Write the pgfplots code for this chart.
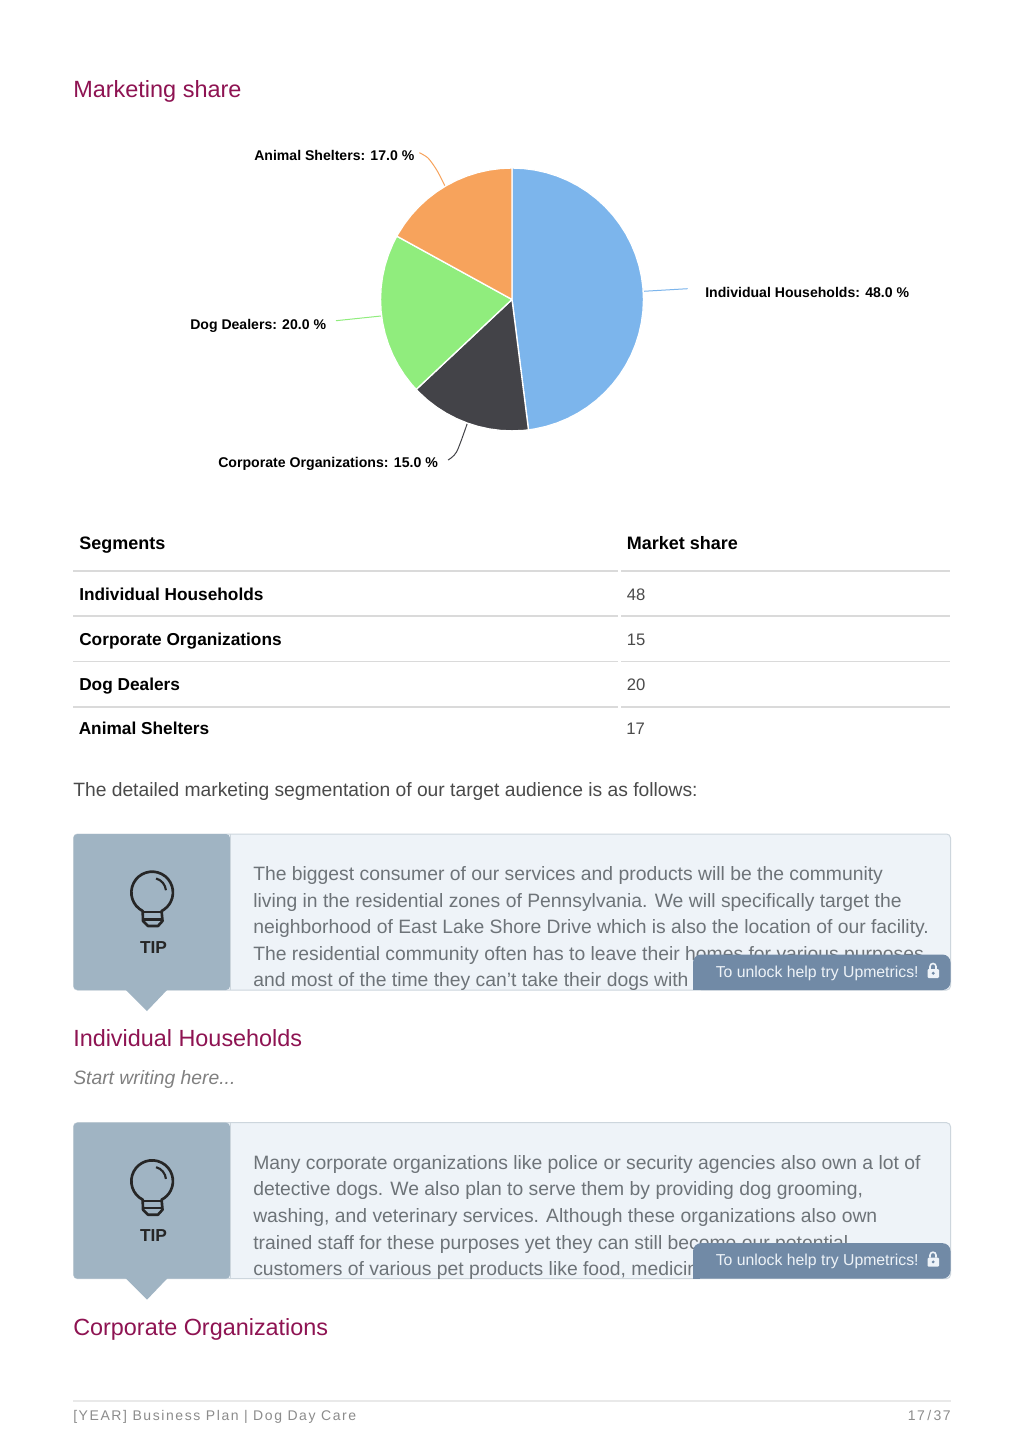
\documentclass[border=0pt]{standalone}
\usepackage{fontspec}
\setmainfont{Liberation Sans}
\newfontfamily\spaced[LetterSpace=11.3]{Liberation Sans}
\usepackage{pgfplots}
\pgfplotsset{compat=1.18}
\usepgfplotslibrary{polar}

\definecolor{maroon}{HTML}{8E1352}
\definecolor{body}{HTML}{4A4A4A}
\definecolor{tiptext}{HTML}{6D7378}
\definecolor{tipside}{HTML}{A0B4C3}
\definecolor{tipback}{HTML}{EEF3F8}
\definecolor{tipedge}{HTML}{CDD6DD}
\definecolor{banner}{HTML}{718AA6}
\definecolor{rule}{HTML}{DADADA}
\definecolor{sliceA}{HTML}{7CB5EC}
\definecolor{sliceB}{HTML}{434348}
\definecolor{sliceC}{HTML}{90ED7D}
\definecolor{sliceD}{HTML}{F7A35C}

% text at page pixels: x, baseline y, size in pt, colour, text
\newcommand{\tx}[5]{\node[anchor=base west,inner sep=0pt,text=#4,font=\fontsize{#3}{#3}\selectfont] at (axis cs:#1,#2) {#5};}

% one tip box, drawn at the position of the first and shifted down
\newcommand{\tipbox}[1]{
  \begin{scope}[yshift=#1]
    \fill[tipback,draw=tipedge,line width=.75pt,rounded corners=3pt] (axis cs:73.5,834) rectangle (axis cs:950.5,990);
    \fill[tipside] (axis cs:125,989) -- (axis cs:168,989) -- (axis cs:147,1011) -- cycle;
    \fill[tipside,rounded corners=3pt] (axis cs:73.5,834) -- (axis cs:230,834) -- (axis cs:230,990) -- (axis cs:73.5,990) -- cycle;
    \draw[tipedge,line width=.75pt] (axis cs:230.5,834) -- (axis cs:230.5,990);
    \draw[black!85,line width=2pt,line join=round] (axis cs:142.7,911) arc[start angle=243,end angle=-63,radius=15.6pt]
      -- (axis cs:162.5,921) -- (axis cs:158,926) -- (axis cs:148,926) -- (axis cs:143,921) -- cycle;
    \draw[black!85,line width=1.6pt] (axis cs:143,912) -- (axis cs:162,912);
    \draw[black!85,line width=1.6pt] (axis cs:143,919.5) -- (axis cs:162.5,919.5);
    \draw[black!85,line width=1.6pt] (axis cs:156.1,878.5) arc[start angle=75,end angle=5,radius=10pt];
    \node[anchor=base,inner sep=0pt,text=black!85,font=\fontsize{13}{13}\selectfont\bfseries] at (axis cs:153.5,953) {TIP};
  \end{scope}
}
\newcommand{\unlock}[1]{
  \begin{scope}[yshift=#1]
    \fill[banner,rounded corners=6pt] (axis cs:693,990) -- (axis cs:693,954.5) -- (axis cs:950.5,954.5) -- (axis cs:950.5,990) -- cycle;
    \fill[banner] (axis cs:693,982) rectangle (axis cs:700,990);
    \tx{715.5}{977}{11.85}{tipback}{To unlock help try Upmetrics!}
    \draw[tipback,line width=1.2pt] (axis cs:930,969) -- (axis cs:930,966.5) arc[start angle=180,end angle=0,radius=2.25pt] -- (axis cs:936,969);
    \fill[tipback,rounded corners=.8pt] (axis cs:927.5,969) rectangle (axis cs:939,978);
    \fill[banner] (axis cs:933.2,973.2) circle[radius=1.2pt];
  \end{scope}
}

\begin{document}
\begin{tikzpicture}
  \begin{axis}[
    name=page,
    at={(0pt,0pt)},
    anchor=south west,
    scale only axis,
    width=768pt,
    height=1086.75pt,
    xmin=0, xmax=1024,
    ymin=0, ymax=1449,
    y dir=reverse,
    hide axis,
    clip=false,
  ]
    \fill[white] (axis cs:0,0) rectangle (axis cs:1024,1449);

    \tx{73}{97.5}{17.6}{maroon}{Marketing share}

    % leader lines of the pie labels
    \addplot[sliceD,line width=.75pt,smooth] coordinates {(419.3,152.7) (428,158) (436.7,170) (445,186)};
    \addplot[sliceC,line width=.75pt] coordinates {(336,320.7) (381,316)};
    \addplot[sliceB,line width=.75pt,smooth] coordinates {(448,460) (456.7,451.7) (467.3,423.3)};
    \addplot[sliceA,line width=.75pt] coordinates {(643.3,291.3) (687.7,288.7)};

    \tx{254}{160}{10.55}{black}{\bfseries Animal Shelters: 17.0 \%}
    \tx{190}{329}{10.55}{black}{\bfseries Dog Dealers: 20.0 \%}
    \tx{218}{467}{10.6}{black}{\bfseries Corporate Organizations: 15.0 \%}
    \tx{705}{297}{10.55}{black}{\bfseries Individual Households: 48.0 \%}

    % table
    \tx{79}{549}{13.5}{black}{\bfseries Segments}
    \tx{626.5}{549}{13.5}{black}{\bfseries Market share}
    \tx{79}{600}{12.95}{black}{\bfseries Individual Households}
    \tx{79}{645}{12.95}{black}{\bfseries Corporate Organizations}
    \tx{79}{690}{12.95}{black}{\bfseries Dog Dealers}
    \tx{78.5}{734.5}{12.95}{black}{\bfseries Animal Shelters}
    \tx{626.5}{600}{12.5}{body}{48}
    \tx{626.5}{645}{12.5}{body}{15}
    \tx{626.5}{690}{12.5}{body}{20}
    \tx{626}{734.5}{12.5}{body}{17}
    \draw[rule,line width=.9pt] (axis cs:73,571) -- (axis cs:618,571) (axis cs:621,571) -- (axis cs:950,571);
    \draw[rule,line width=.9pt] (axis cs:73,616) -- (axis cs:618,616) (axis cs:621,616) -- (axis cs:950,616);
    \draw[rule,line width=.9pt] (axis cs:73,661.5) -- (axis cs:618,661.5) (axis cs:621,661.5) -- (axis cs:950,661.5);
    \draw[rule,line width=.9pt] (axis cs:73,707) -- (axis cs:618,707) (axis cs:621,707) -- (axis cs:950,707);

    \tx{73}{796}{14.45}{body}{The detailed marketing segmentation of our target audience is as follows:}

    % first tip
    \tipbox{0pt}
    \begin{scope}
      \clip (axis cs:231,834) rectangle (axis cs:950,990);
      \tx{253}{880}{14.5}{tiptext}{The biggest consumer of our services and products will be the community}
      \tx{253}{907}{14.5}{tiptext}{living in the residential zones of Pennsylvania. We will specifically target the}
      \tx{253}{933}{14.5}{tiptext}{neighborhood of East Lake Shore Drive which is also the location of our facility.}
      \tx{253}{960}{14.5}{tiptext}{The residential community often has to leave their homes for various purposes}
      \tx{253}{986.5}{14.5}{tiptext}{and most of the time they can't take their dogs with}
    \end{scope}
    \unlock{0pt}

    \tx{73}{1046}{17.55}{maroon}{Individual Households}
    \tx{73}{1084}{14.5}{black!50}{\itshape Start writing here...}

    % second tip
    \tipbox{-216.5pt}
    \begin{scope}
      \clip (axis cs:231,1122) rectangle (axis cs:950,1279);
      \tx{253}{1169}{14.5}{tiptext}{Many corporate organizations like police or security agencies also own a lot of}
      \tx{253}{1195}{14.5}{tiptext}{detective dogs. We also plan to serve them by providing dog grooming,}
      \tx{253}{1222}{14.5}{tiptext}{washing, and veterinary services. Although these organizations also own}
      \tx{253}{1249}{14.5}{tiptext}{trained staff for these purposes yet they can still become our potential}
      \tx{253}{1275}{14.5}{tiptext}{customers of various pet products like food, medicine}
    \end{scope}
    \unlock{-216.5pt}

    \tx{73}{1335}{17.55}{maroon}{Corporate Organizations}

    % footer
    \draw[rule!60,line width=1pt] (axis cs:73,1401) -- (axis cs:951,1401);
    \tx{73}{1420}{10.5}{black!45}{\spaced [YEAR] Business Plan | Dog Day Care}
    \node[anchor=base east,inner sep=0pt,text=black!45,font=\fontsize{10.5}{10.5}\selectfont] at (axis cs:951,1420) {\spaced 17\,/\,37};
  \end{axis}

  % the pie: angle and radius in page pixels
  \begin{polaraxis}[
    at={(384pt,862.125pt)},
    anchor=origin,
    scale only axis,
    width=197.2pt,
    height=197.2pt,
    xmin=0, xmax=360,
    ymin=0, ymax=131,
    hide axis,
    clip=false,
  ]
    \addplot[fill=sliceA,draw=white,line width=1pt] coordinates {
      (0,0) (277.2,131) (280,131) (285,131) (290,131) (295,131) (300,131) (305,131) (310,131) (315,131)
      (320,131) (325,131) (330,131) (335,131) (340,131) (345,131) (350,131) (355,131)
      (0,131) (5,131) (10,131) (15,131) (20,131) (25,131) (30,131) (35,131) (40,131) (45,131)
      (50,131) (55,131) (60,131) (65,131) (70,131) (75,131) (80,131) (85,131) (90,131) (0,0)
    };
    \addplot[fill=sliceB,draw=white,line width=1pt] coordinates {
      (0,0) (223.2,131) (225,131) (230,131) (235,131) (240,131) (245,131) (250,131) (255,131)
      (260,131) (265,131) (270,131) (275,131) (277.2,131) (0,0)
    };
    \addplot[fill=sliceC,draw=white,line width=1pt] coordinates {
      (0,0) (151.2,131) (155,131) (160,131) (165,131) (170,131) (175,131) (180,131) (185,131)
      (190,131) (195,131) (200,131) (205,131) (210,131) (215,131) (220,131) (223.2,131) (0,0)
    };
    \addplot[fill=sliceD,draw=white,line width=1pt] coordinates {
      (0,0) (90,131) (95,131) (100,131) (105,131) (110,131) (115,131) (120,131) (125,131)
      (130,131) (135,131) (140,131) (145,131) (150,131) (151.2,131) (0,0)
    };
  \end{polaraxis}
\end{tikzpicture}
\end{document}
